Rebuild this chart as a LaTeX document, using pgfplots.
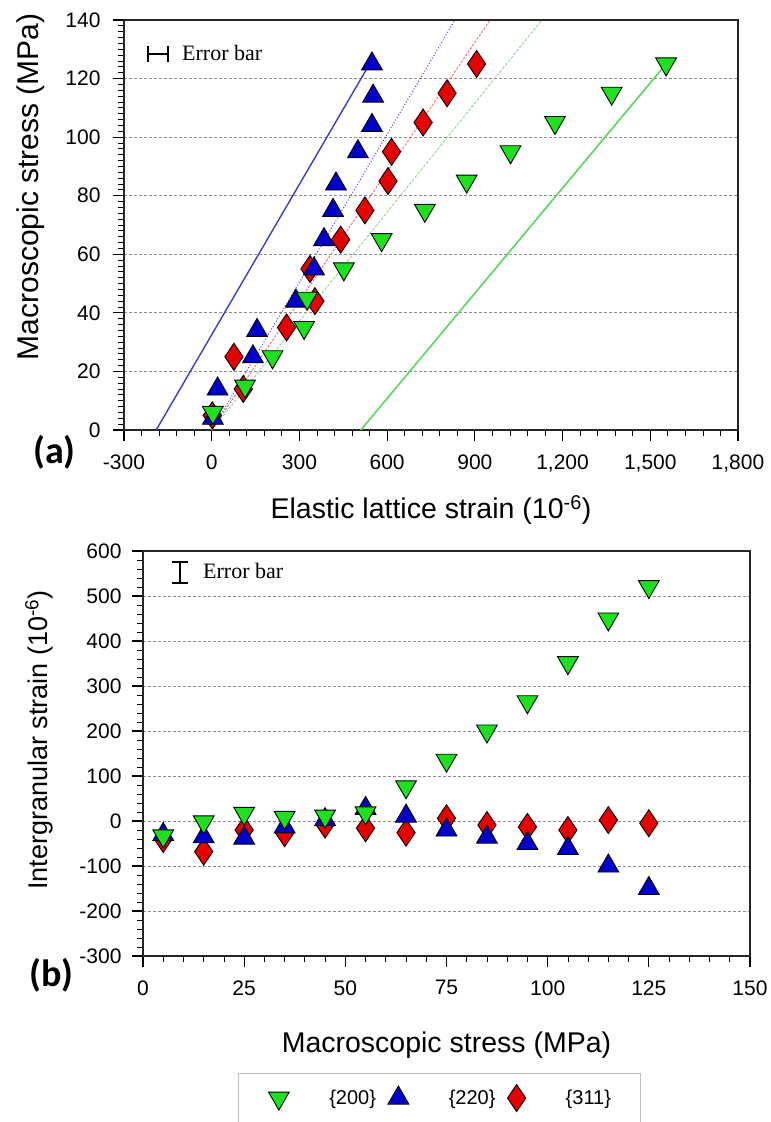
\documentclass[border=0pt]{standalone}
\usepackage{fontspec}
\setmainfont{Liberation Sans}
\newfontfamily\carlito{Carlito}
\newfontfamily\seriffont{Liberation Serif}
\usepackage{pgfplots}
\pgfplotsset{compat=1.18}
\definecolor{mgreen}{RGB}{30,225,30}
\definecolor{mblue}{RGB}{0,0,205}
\definecolor{mred}{RGB}{230,0,0}
\definecolor{lblue}{RGB}{60,60,200}
\definecolor{lgreen}{RGB}{90,215,90}
\pgfplotsset{
  mystyle/.style={scale only axis, tick align=outside, tick pos=left,
    major tick length=11pt, minor tick length=6pt,
    axis line style={line width=1.5pt, black!85},
    major tick style={black, line width=1.2pt},
    minor tick style={black, line width=0.8pt},
    ymajorgrids, grid style={black!45, dash pattern=on 3pt off 2pt, line width=0.8pt},
    ticklabel style={font=\fontsize{21}{21}\selectfont},
    /pgf/number format/assume math mode=true, clip=false},
  gmark/.style={only marks, mark=triangle*, mark size=12pt, mark options={fill=mgreen, draw=black, line width=0.9pt, rotate=180}},
  bmark/.style={only marks, mark=triangle*, mark size=12pt, mark options={fill=mblue, draw=black, line width=0.9pt}},
  rmark/.style={only marks, mark=diamond*, mark size=13.5pt, mark options={fill=mred, draw=black, line width=0.9pt, xscale=0.9}},
}
\begin{document}
\begin{tikzpicture}
\path[fill=white, use as bounding box] (0pt,0pt) rectangle (771pt,-1122pt);
% ---------- (a) ----------
\begin{axis}[mystyle, at={(124pt,-430pt)}, anchor=south west, width=614pt, height=410pt,
  xmin=-300, xmax=1800, ymin=0, ymax=140,
  xtick={-300,0,300,600,900,1200,1500,1800},
  xticklabels={-300,0,300,600,900,{1,200},{1,500},{1,800}},
  minor x tick num=4,
  ytick={0,20,...,140}, yticklabels={0,20,40,60,80,100,120,140},
  minor y tick num=9,
  xticklabel style={yshift=-10pt},
  yticklabel style={xshift=-9pt},
  xlabel={Elastic lattice strain (10\textsuperscript{-6})},
  ylabel={Macroscopic stress (MPa)},
  xlabel style={at={(axis description cs:0.5,-0.195)}, anchor=center, font=\fontsize{28.5}{30}\selectfont},
  ylabel style={at={(axis description cs:-0.1515,0.593)}, anchor=center, font=\fontsize{30}{32}\selectfont},
]
\addplot[lblue, line width=1.4pt] coordinates {(-190,0) (540,125)};
\addplot[blue!75, dotted, line width=1pt] coordinates {(0,0) (832,140)};
\addplot[red!60, dash pattern=on 2.5pt off 1.5pt, line width=0.9pt] coordinates {(0,0) (952,140)};
\addplot[green!55!black!40!white, dash pattern=on 3pt off 1.5pt, line width=0.9pt] coordinates {(0,0) (1129,140)};
\addplot[lgreen, line width=1.6pt] coordinates {(510,0) (1554,125)};
\addplot[rmark] coordinates {(2,5)(108,14)(76,25)(256,35)(353,44)(336,55)(441,65)(524,75)(603,85)(615,95)(723,105)(805,115)(906,125)};
\addplot[bmark] coordinates {(4,4)(20,14)(141,25)(155,34)(288,44)(350,55)(384,65)(415,75)(425,84)(500,95)(548,104)(552,114)(548,125)};
\addplot[gmark] coordinates {(4,6)(114,15)(208,25)(316,35)(326,45)(452,55)(581,65)(729,75)(872,85)(1022,95)(1174,105)(1368,115)(1554,125)};
\end{axis}
% ---------- (b) ----------
\begin{axis}[mystyle, at={(143pt,-956pt)}, anchor=south west, width=607pt, height=405pt,
  xmin=0, xmax=150, ymin=-300, ymax=600,
  xtick={0,25,...,150}, xticklabels={0,25,50,75,100,125,150},
  minor x tick num=4,
  ytick={-300,-200,...,600}, yticklabels={-300,-200,-100,0,100,200,300,400,500,600},
  minor y tick num=4,
  xticklabel style={yshift=-10pt},
  yticklabel style={xshift=-7pt},
  xlabel={Macroscopic stress (MPa)},
  ylabel={Intergranular strain (10\textsuperscript{-6})},
  xlabel style={at={(axis description cs:0.5,-0.22)}, anchor=center, font=\fontsize{28.5}{30}\selectfont},
  ylabel style={at={(axis description cs:-0.171,0.533)}, anchor=center, font=\fontsize{27}{29}\selectfont},
  legend columns=3, reverse legend, legend cell align=left,
  legend style={at={(axis description cs:0.1565,-0.289)}, anchor=north west,
    draw=black!25, line width=1pt, font=\fontsize{20}{20}\selectfont,
    column sep=0pt, inner xsep=30pt, inner ysep=11pt, nodes={inner xsep=0pt},
    /tikz/every odd column/.append style={column sep=40pt},
    /tikz/every even column/.append style={column sep=12pt}},
  legend image code/.code={\draw[#1] plot coordinates {(0pt,0pt)};},
]
\addplot[rmark] coordinates {(5,-40)(15,-68)(25,-20)(35,-27)(45,-8)(55,-16)(65,-26)(75,6)(85,-9)(95,-13)(105,-20)(115,2)(125,-5)};
\addlegendentry{\{311\}}
\addplot[bmark] coordinates {(5,-30)(15,-35)(25,-38)(35,-13)(45,3)(55,28)(65,11)(75,-20)(85,-36)(95,-50)(105,-61)(115,-100)(125,-150)};
\addlegendentry{\{220\}}
\addplot[gmark] coordinates {(5,-33)(15,-2)(25,17)(35,8)(45,11)(55,18)(65,76)(75,135)(85,200)(95,265)(105,352)(115,449)(125,521)};
\addlegendentry{\{200\}}
\end{axis}
% ---------- annotations ----------
\draw[line width=1.8pt] (148pt,-54pt) -- (168pt,-54pt);
\draw[line width=1.8pt] (148pt,-46pt) -- (148pt,-62pt);
\draw[line width=1.8pt] (168pt,-46pt) -- (168pt,-62pt);
\node[anchor=base west, inner sep=0pt, font=\seriffont\fontsize{22}{22}\selectfont] at (182pt,-60pt) {Error bar};
\draw[line width=1.8pt] (172pt,-562pt) -- (188pt,-562pt);
\draw[line width=1.8pt] (172pt,-583pt) -- (188pt,-583pt);
\draw[line width=1.8pt] (180pt,-562pt) -- (180pt,-583pt);
\node[anchor=base west, inner sep=0pt, font=\seriffont\fontsize{22}{22}\selectfont] at (203pt,-578pt) {Error bar};
\node[anchor=east, inner sep=0pt, font=\carlito\bfseries\fontsize{38}{38}\selectfont] at (76pt,-452pt) {(a)};
\node[anchor=east, inner sep=0pt, font=\carlito\bfseries\fontsize{38}{38}\selectfont] at (74pt,-975pt) {(b)};
\end{tikzpicture}
\end{document}
